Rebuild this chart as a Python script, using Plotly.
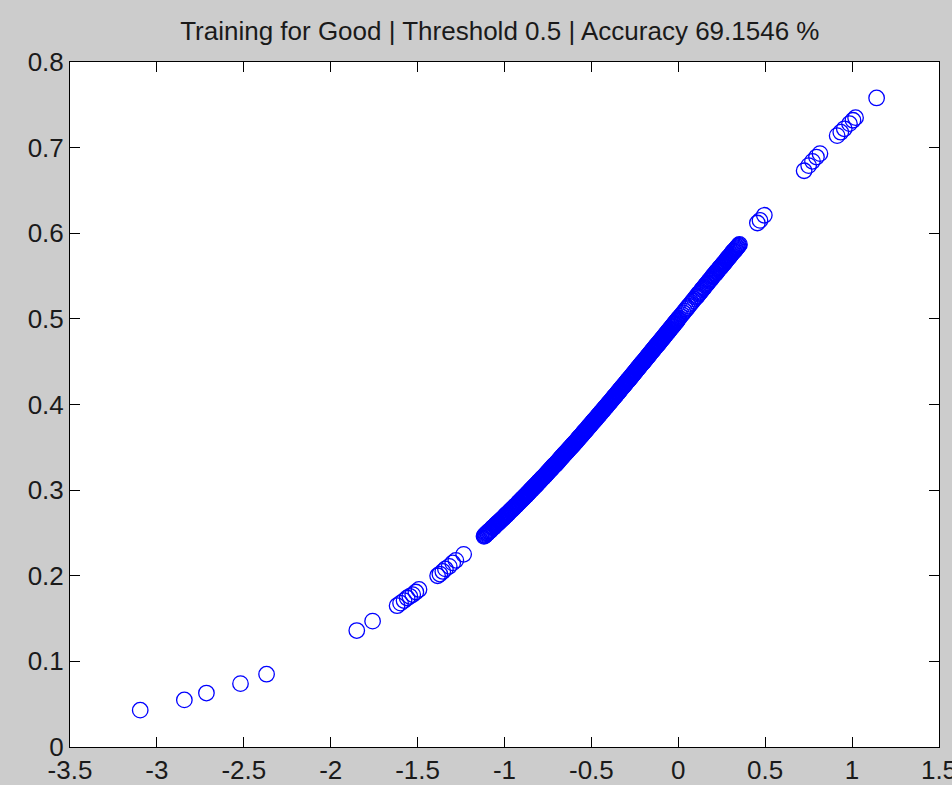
import plotly.graph_objects as go

# Scores (x) and predicted probability of "Good" (y) for the training set.
# Sparse low-score tail
tail_x = [-3.096, -2.842, -2.715, -2.519, -2.369, -1.850, -1.759,
          -1.618, -1.598, -1.578, -1.560, -1.545, -1.528, -1.510, -1.492,
          -1.385, -1.372, -1.355, -1.340, -1.318, -1.298, -1.280, -1.235]
tail_y = [0.043, 0.055, 0.063, 0.074, 0.085, 0.136, 0.147,
          0.165, 0.168, 0.171, 0.174, 0.176, 0.178, 0.181, 0.184,
          0.200, 0.202, 0.205, 0.208, 0.211, 0.215, 0.218, 0.225]

# Dense band of scores between about -1.12 and 0.35
band_x = [-1.118, -1.112, -1.105, -1.100, -1.094, -1.087, -1.080, -1.073, -1.066, -1.060,
          -1.052, -1.045, -1.038, -1.030, -1.022, -1.015, -1.008, -1.000, -0.992, -0.985,
          -0.978, -0.970, -0.962, -0.955, -0.948, -0.940, -0.933, -0.925, -0.918, -0.910,
          -0.904, -0.898, -0.892, -0.886, -0.880, -0.874, -0.868, -0.862, -0.856, -0.850,
          -0.844, -0.838, -0.832, -0.826, -0.820, -0.814, -0.808, -0.802, -0.796, -0.790,
          -0.784, -0.778, -0.772, -0.766, -0.760, -0.754, -0.748, -0.742, -0.736, -0.730,
          -0.724, -0.718, -0.712, -0.706, -0.700, -0.694, -0.688, -0.682, -0.676, -0.670,
          -0.664, -0.658, -0.652, -0.646, -0.640, -0.634, -0.628, -0.622, -0.616, -0.610,
          -0.604, -0.598, -0.592, -0.586, -0.580, -0.574, -0.568, -0.562, -0.556, -0.550,
          -0.544, -0.538, -0.532, -0.526, -0.520, -0.514, -0.508, -0.502, -0.496, -0.490,
          -0.484, -0.478, -0.472, -0.466, -0.460, -0.454, -0.448, -0.442, -0.436, -0.430,
          -0.424, -0.418, -0.412, -0.406, -0.400, -0.394, -0.388, -0.382, -0.376, -0.370,
          -0.364, -0.358, -0.352, -0.346, -0.340, -0.334, -0.328, -0.322, -0.316, -0.310,
          -0.304, -0.298, -0.292, -0.286, -0.280, -0.274, -0.268, -0.262, -0.256, -0.250,
          -0.244, -0.238, -0.232, -0.226, -0.220, -0.214, -0.208, -0.202, -0.196, -0.190,
          -0.184, -0.178, -0.172, -0.166, -0.160, -0.154, -0.148, -0.142, -0.136, -0.130,
          -0.124, -0.118, -0.112, -0.106, -0.100, -0.094, -0.088, -0.082, -0.076, -0.070,
          -0.064, -0.058, -0.052, -0.046, -0.040, -0.034, -0.028, -0.022, -0.016, -0.010,
          -0.004, 0.004, 0.012, 0.020, 0.028, 0.036, 0.044, 0.052, 0.060, 0.068,
          0.076, 0.084, 0.092, 0.100, 0.110, 0.120, 0.130, 0.140, 0.150, 0.160,
          0.170, 0.180, 0.190, 0.200, 0.208, 0.215, 0.222, 0.229, 0.236, 0.243,
          0.250, 0.257, 0.264, 0.271, 0.278, 0.285, 0.292, 0.299, 0.306, 0.313,
          0.320, 0.328, 0.336, 0.345, 0.352]
band_y = [0.246, 0.247, 0.249, 0.250, 0.251, 0.252, 0.253, 0.255, 0.256, 0.257,
          0.259, 0.260, 0.262, 0.263, 0.265, 0.266, 0.267, 0.269, 0.271, 0.272,
          0.273, 0.275, 0.277, 0.278, 0.279, 0.281, 0.282, 0.284, 0.286, 0.287,
          0.288, 0.290, 0.291, 0.292, 0.293, 0.294, 0.296, 0.297, 0.298, 0.300,
          0.301, 0.302, 0.303, 0.305, 0.306, 0.307, 0.308, 0.310, 0.311, 0.312,
          0.314, 0.315, 0.316, 0.317, 0.319, 0.320, 0.321, 0.323, 0.324, 0.325,
          0.327, 0.328, 0.329, 0.330, 0.332, 0.333, 0.334, 0.336, 0.337, 0.339,
          0.340, 0.341, 0.343, 0.344, 0.345, 0.347, 0.348, 0.349, 0.351, 0.352,
          0.353, 0.355, 0.356, 0.357, 0.359, 0.360, 0.362, 0.363, 0.364, 0.366,
          0.367, 0.369, 0.370, 0.371, 0.373, 0.374, 0.376, 0.377, 0.379, 0.380,
          0.381, 0.383, 0.384, 0.386, 0.387, 0.388, 0.390, 0.391, 0.393, 0.394,
          0.396, 0.397, 0.398, 0.400, 0.401, 0.403, 0.404, 0.406, 0.407, 0.409,
          0.410, 0.411, 0.413, 0.414, 0.416, 0.417, 0.419, 0.420, 0.422, 0.423,
          0.425, 0.426, 0.428, 0.429, 0.430, 0.432, 0.433, 0.435, 0.436, 0.438,
          0.439, 0.441, 0.442, 0.444, 0.445, 0.447, 0.448, 0.450, 0.451, 0.453,
          0.454, 0.456, 0.457, 0.459, 0.460, 0.462, 0.463, 0.465, 0.466, 0.468,
          0.469, 0.470, 0.472, 0.473, 0.475, 0.476, 0.478, 0.479, 0.481, 0.482,
          0.484, 0.485, 0.487, 0.488, 0.490, 0.491, 0.493, 0.494, 0.496, 0.497,
          0.499, 0.501, 0.503, 0.505, 0.507, 0.509, 0.511, 0.513, 0.515, 0.517,
          0.519, 0.521, 0.523, 0.525, 0.527, 0.530, 0.532, 0.535, 0.537, 0.540,
          0.542, 0.545, 0.547, 0.550, 0.552, 0.553, 0.555, 0.557, 0.559, 0.560,
          0.562, 0.564, 0.565, 0.567, 0.569, 0.571, 0.572, 0.574, 0.576, 0.578,
          0.579, 0.581, 0.583, 0.585, 0.587]

# More samples inside the same band (interleaved scores)
band2_x = [-1.115, -1.108, -1.097, -1.090, -1.083, -1.077, -1.069, -1.063, -1.056, -1.049,
           -1.041, -1.034, -1.026, -1.019, -1.011, -1.004, -0.996, -0.988, -0.981, -0.974,
           -0.966, -0.958, -0.951, -0.944, -0.936, -0.929, -0.921, -0.914, -0.907, -0.901,
           -0.895, -0.889, -0.883, -0.877, -0.871, -0.865, -0.859, -0.853, -0.847, -0.841,
           -0.835, -0.829, -0.823, -0.817, -0.811, -0.805, -0.799, -0.793, -0.787, -0.781,
           -0.775, -0.769, -0.763, -0.757, -0.751, -0.745, -0.739, -0.733, -0.727, -0.721,
           -0.715, -0.709, -0.703, -0.697, -0.691, -0.685, -0.679, -0.673, -0.667, -0.661,
           -0.655, -0.649, -0.643, -0.637, -0.631, -0.625, -0.619, -0.613, -0.607, -0.601,
           -0.595, -0.589, -0.583, -0.577, -0.571, -0.565, -0.559, -0.553, -0.547, -0.541,
           -0.535, -0.529, -0.523, -0.517, -0.511, -0.505, -0.499, -0.493, -0.487, -0.481,
           -0.475, -0.469, -0.463, -0.457, -0.451, -0.445, -0.439, -0.433, -0.427, -0.421,
           -0.415, -0.409, -0.403, -0.397, -0.391, -0.385, -0.379, -0.373, -0.367, -0.361,
           -0.355, -0.349, -0.343, -0.337, -0.331, -0.325, -0.319, -0.313, -0.307, -0.301,
           -0.295, -0.289, -0.283, -0.277, -0.271, -0.265, -0.259, -0.253, -0.247, -0.241,
           -0.235, -0.229, -0.223, -0.217, -0.211, -0.205, -0.199, -0.193, -0.187, -0.181,
           -0.175, -0.169, -0.163, -0.157, -0.151, -0.145, -0.139, -0.133, -0.127, -0.121,
           -0.115, -0.109, -0.103, -0.097, -0.091, -0.085, -0.079, -0.073, -0.067, -0.061,
           -0.055, -0.049, -0.043, -0.037, -0.031, -0.025, -0.019, -0.013, -0.007, -0.001,
           0.105, 0.115, 0.125, 0.135, 0.145, 0.155, 0.165, 0.175, 0.185, 0.195,
           0.204, 0.212, 0.219, 0.226, 0.233, 0.240, 0.247, 0.254, 0.261, 0.268,
           0.275, 0.282, 0.289, 0.296, 0.303, 0.310, 0.317, 0.324, 0.332, 0.340,
           0.348]
band2_y = [0.247, 0.248, 0.250, 0.252, 0.253, 0.254, 0.256, 0.257, 0.258, 0.260,
           0.261, 0.262, 0.264, 0.265, 0.267, 0.268, 0.270, 0.271, 0.273, 0.274,
           0.276, 0.277, 0.279, 0.280, 0.282, 0.283, 0.285, 0.286, 0.288, 0.289,
           0.290, 0.291, 0.293, 0.294, 0.295, 0.296, 0.298, 0.299, 0.300, 0.301,
           0.303, 0.304, 0.305, 0.306, 0.308, 0.309, 0.310, 0.312, 0.313, 0.314,
           0.315, 0.317, 0.318, 0.319, 0.321, 0.322, 0.323, 0.325, 0.326, 0.327,
           0.329, 0.330, 0.331, 0.332, 0.334, 0.335, 0.337, 0.338, 0.339, 0.341,
           0.342, 0.343, 0.345, 0.346, 0.347, 0.349, 0.350, 0.351, 0.353, 0.354,
           0.355, 0.357, 0.358, 0.360, 0.361, 0.362, 0.364, 0.365, 0.367, 0.368,
           0.369, 0.371, 0.372, 0.374, 0.375, 0.376, 0.378, 0.379, 0.381, 0.382,
           0.383, 0.385, 0.386, 0.388, 0.389, 0.391, 0.392, 0.393, 0.395, 0.396,
           0.398, 0.399, 0.401, 0.402, 0.403, 0.405, 0.406, 0.408, 0.409, 0.411,
           0.412, 0.414, 0.415, 0.417, 0.418, 0.420, 0.421, 0.422, 0.424, 0.425,
           0.427, 0.428, 0.430, 0.431, 0.433, 0.434, 0.436, 0.437, 0.439, 0.440,
           0.442, 0.443, 0.445, 0.446, 0.448, 0.449, 0.450, 0.452, 0.453, 0.455,
           0.456, 0.458, 0.459, 0.461, 0.462, 0.464, 0.465, 0.467, 0.468, 0.470,
           0.471, 0.473, 0.474, 0.476, 0.477, 0.479, 0.480, 0.482, 0.483, 0.485,
           0.486, 0.488, 0.489, 0.491, 0.492, 0.494, 0.495, 0.497, 0.498, 0.500,
           0.526, 0.529, 0.531, 0.534, 0.536, 0.539, 0.541, 0.544, 0.546, 0.549,
           0.551, 0.553, 0.555, 0.556, 0.558, 0.560, 0.561, 0.563, 0.565, 0.566,
           0.568, 0.570, 0.572, 0.573, 0.575, 0.577, 0.579, 0.580, 0.582, 0.584,
           0.586]

# Sparse high-score tail
head_x = [0.455, 0.470, 0.495, 0.724, 0.750, 0.772, 0.795, 0.815,
          0.914, 0.935, 0.955, 0.985, 1.005, 1.020, 1.141]
head_y = [0.612, 0.615, 0.621, 0.673, 0.679, 0.684, 0.689, 0.693,
          0.714, 0.718, 0.722, 0.728, 0.732, 0.735, 0.758]

x_ticks = [-3.5, -3, -2.5, -2, -1.5, -1, -0.5, 0, 0.5, 1, 1.5]
x_tick_text = ["-3.5", "-3", "-2.5", "-2", "-1.5", "-1", "-0.5", "0", "0.5", "1", "1.5"]
y_ticks = [0, 0.1, 0.2, 0.3, 0.4, 0.5, 0.6, 0.7, 0.8]
y_tick_text = ["0", "0.1", "0.2", "0.3", "0.4", "0.5", "0.6", "0.7", "0.8"]

title_text = "Training for Good | Threshold 0.5 | Accuracy 69.1546 %"

scores = tail_x + band_x + band2_x + head_x
probs = tail_y + band_y + band2_y + head_y

fig = go.Figure()
fig.add_trace(go.Scatter(
    x=scores, y=probs, mode="markers",
    marker=dict(symbol="circle-open", size=15.5, color="#0000ff",
                line=dict(width=1.3, color="#0000ff")),
    showlegend=False, hoverinfo="x+y",
))

text_font = "Liberation Sans, Arial, sans-serif"

axis_common = dict(
    showgrid=False, zeroline=False, automargin=False,
    showline=True, linecolor="#000000", linewidth=1, mirror="ticks",
    ticks="inside", ticklen=10, tickwidth=1, tickcolor="#000000",
    ticklabeloverflow="allow",
    tickfont=dict(family=text_font, size=26, color="#1a1a1a"),
)

fig.update_layout(
    width=952, height=785,
    margin=dict(l=70, r=13, t=62, b=38),
    paper_bgcolor="#cccccc", plot_bgcolor="#ffffff",
    xaxis=dict(range=[-3.5, 1.5], tickvals=x_ticks, ticktext=x_tick_text, **axis_common),
    yaxis=dict(range=[0, 0.8], tickvals=y_ticks, ticktext=y_tick_text, **axis_common),
    title=dict(text=title_text, x=0.525, xanchor="center", y=1 - 31 / 785, yanchor="middle",
               font=dict(family=text_font, size=26, color="#1a1a1a"), automargin=False),
)

fig.write_html("out.html")
